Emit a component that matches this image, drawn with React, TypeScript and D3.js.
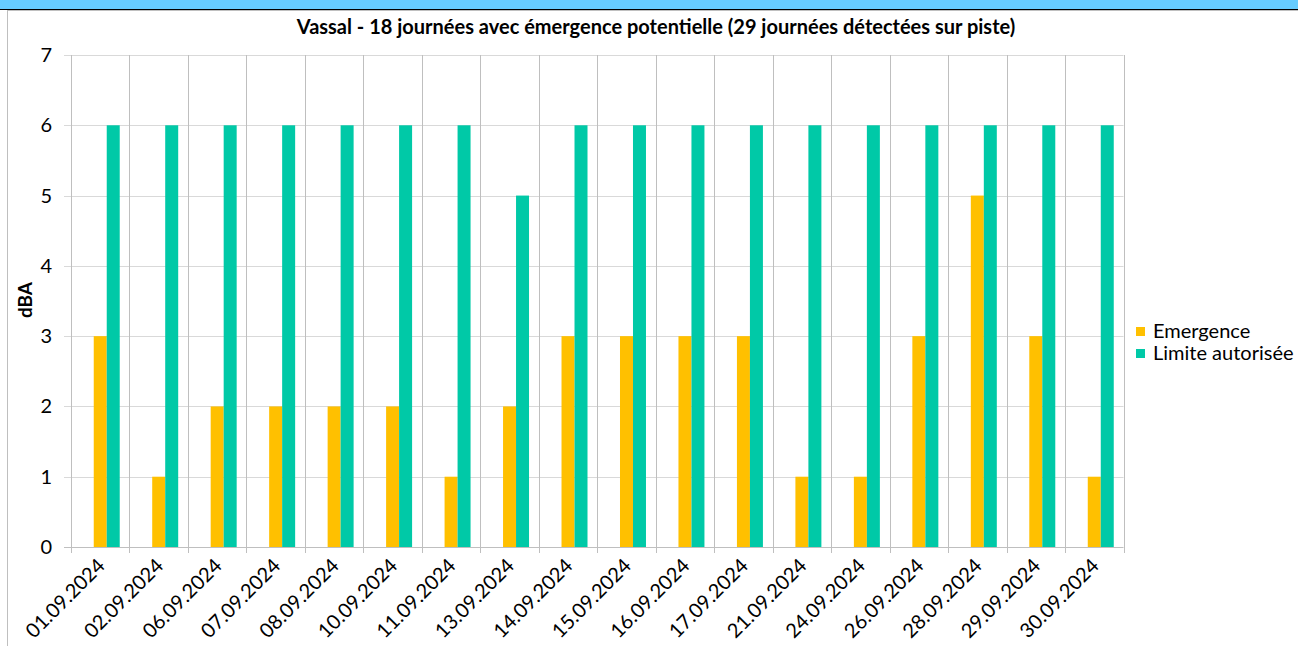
import React from "react";
import * as d3 from "d3";

// chart data
const categories = [
  "01.09.2024", "02.09.2024", "06.09.2024", "07.09.2024", "08.09.2024", "10.09.2024",
  "11.09.2024", "13.09.2024", "14.09.2024", "15.09.2024", "16.09.2024", "17.09.2024",
  "21.09.2024", "24.09.2024", "26.09.2024", "28.09.2024", "29.09.2024", "30.09.2024",
];
const emergence = [3, 1, 2, 2, 2, 2, 1, 2, 3, 3, 3, 3, 1, 1, 3, 5, 3, 1];
const limite = [6, 6, 6, 6, 6, 6, 6, 5, 6, 6, 6, 6, 6, 6, 6, 6, 6, 6];
const seriesNames = ["Emergence", "Limite autorisée"];
const yTicks = [0, 1, 2, 3, 4, 5, 6, 7];

const title = "Vassal - 18 journées avec émergence potentielle (29 journées détectées sur piste)";

const W = 1298;
const H = 646;
const colors = ["#FFC000", "#00C9A7"];
const font = "Lato, Calibri, 'Open Sans', sans-serif";

const App = () => {
  const plot = { left: 71, right: 1123.5, top: 55, bottom: 547 };

  const x0 = d3.scaleBand<string>().domain(categories).range([plot.left, plot.right]);
  // three slots per category, the first one is empty (as in the original spreadsheet)
  const x1 = d3
    .scaleBand<string>()
    .domain(["", ...seriesNames])
    .range([0, x0.bandwidth()])
    .paddingOuter(0.75);
  const y = d3.scaleLinear().domain([0, 7]).range([plot.bottom, plot.top]);

  const series = [emergence, limite];
  const gridLines = categories.map((c) => x0(c) as number).concat([plot.right]);

  return (
    <svg
      width={W}
      height={H}
      style={{ position: "absolute", left: 0, top: 0, background: "#fff" }}
      fontFamily={font}
    >
      {/* top frame */}
      <rect x={0} y={0} width={W} height={9} fill="#66CCFF" />
      <line x1={0} x2={W} y1={9.5} y2={9.5} stroke="#000" />
      <line x1={7} x2={W} y1={10.5} y2={10.5} stroke="#c0c0c0" />
      <line x1={7.5} x2={7.5} y1={10} y2={H} stroke="#bfbfbf" />

      <text x={656} y={34} textAnchor="middle" fontWeight="bold" fontSize={20}>
        {title}
      </text>

      {/* horizontal grid */}
      {yTicks.map((t) => (
        <g key={t}>
          <line x1={64} x2={plot.right} y1={Math.round(y(t)) + 0.5} y2={Math.round(y(t)) + 0.5}
            stroke={t === 0 ? "#bfbfbf" : "#d9d9d9"} />
          <text x={52} y={y(t) + 7} textAnchor="end" fontSize={20}>
            {t}
          </text>
        </g>
      ))}

      {/* vertical grid */}
      {gridLines.map((gx, i) => (
        <line key={i} x1={Math.round(gx) + 0.5} x2={Math.round(gx) + 0.5} y1={plot.top} y2={553}
          stroke="#bfbfbf" />
      ))}

      {/* bars */}
      {series.map((vals, s) =>
        vals.map((v, i) => (
          <rect
            key={`${s}-${i}`}
            x={(x0(categories[i]) as number) + (x1(seriesNames[s]) as number)}
            y={y(v)}
            width={x1.bandwidth()}
            height={y(0) - y(v)}
            fill={colors[s]}
          />
        ))
      )}

      {/* x labels */}
      {categories.map((c) => {
        const cx = (x0(c) as number) + x0.bandwidth() / 2;
        return (
          <text key={c} transform={`translate(${cx + 6},${567}) rotate(-45)`} textAnchor="end"
            fontSize={20}>
            {c}
          </text>
        );
      })}

      <text transform="translate(32,300) rotate(-90)" textAnchor="middle" fontWeight="bold"
        fontSize={19}>
        dBA
      </text>

      {/* legend */}
      {seriesNames.map((n, i) => (
        <g key={n} transform={`translate(1136,${327 + i * 22})`}>
          <rect x={0} y={0} width={9} height={9} fill={colors[i]} />
          <text x={17} y={11} fontSize={20}>
            {n}
          </text>
        </g>
      ))}
    </svg>
  );
};

export default App;
